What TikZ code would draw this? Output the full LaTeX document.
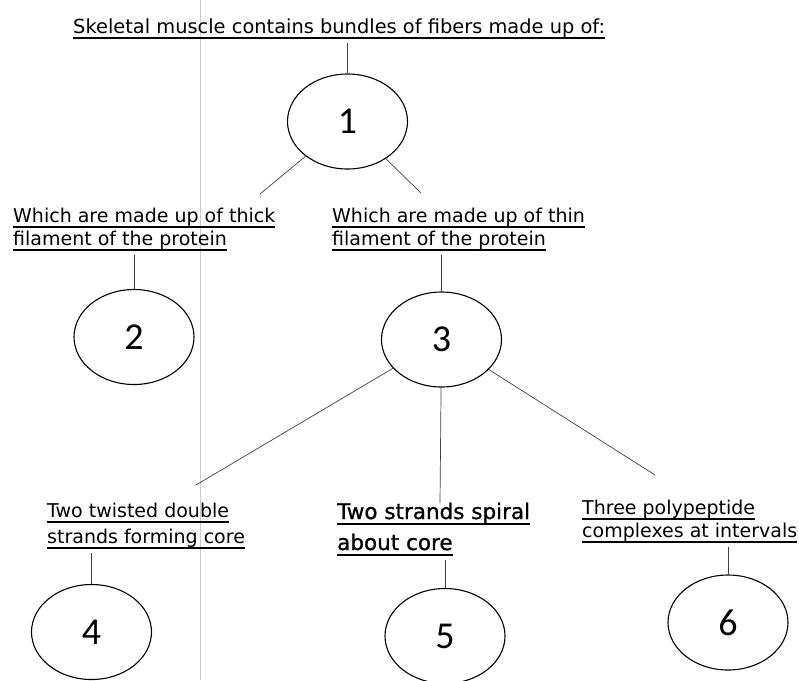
\documentclass[tikz,border=0pt]{standalone}
\usepackage{fontspec}
\setmainfont{DejaVu Sans}
\newfontfamily\numfont{Carlito}
\usetikzlibrary{shapes.geometric}
\newsavebox\ulbox
\newcommand\ulbl[1]{\sbox\ulbox{#1}\rlap{\rule[-5.6pt]{\wd\ulbox}{1.3pt}}\usebox\ulbox}

\begin{document}
\begin{tikzpicture}[x=1pt,y=-1pt,
    oval/.style={draw,line width=1.1pt,ellipse,minimum width=120pt,minimum height=95pt,
      inner sep=0pt,font=\numfont\fontsize{38}{38}\selectfont},
    lbl/.style={anchor=base west,align=left,inner xsep=0pt,inner ysep=4pt,
      font=\fontsize{19}{23}\selectfont},
    link/.style={draw=black!75,line width=0.7pt}]
  \useasboundingbox (0,0) rectangle (799,680);
  \draw[black!20,line width=0.6pt] (200,0) -- (200,680);
  \node[lbl,font=\fontsize{19.4}{23}\selectfont] (top) at (73,33) {\ulbl{Skeletal muscle contains bundles of fibers made up of:}};
  \node[oval] (e1) at (347.5,121.5) {1};
  % base anchor sits on the last line
  \node[lbl] (lab2) at (13,245) {\ulbl{Which are made up of thick}\\\ulbl{filament of the protein}};
  \node[lbl] (lab3) at (332,245) {\ulbl{Which are made up of thin}\\\ulbl{filament of the protein}};
  \node[oval] (e2) at (134,337) {2};
  \node[oval] (e3) at (441.5,339.5) {3};
  \node[lbl] (lab4) at (47,543) {\ulbl{Two twisted double}\\[3pt]\ulbl{strands forming core}};
  \node[lbl,font=\fontsize{21.5}{31}\selectfont\addfontfeature{FakeBold=1}] (lab5) at (337,550) {\ulbl{Two strands spiral}\\\ulbl{about core}};
  \node[lbl] (lab6) at (582,537) {\ulbl{Three polypeptide}\\\ulbl{complexes at intervals}};
  \node[oval] (e4) at (91.5,632) {4};
  \node[oval] (e5) at (445,636) {5};
  \node[oval] (e6) at (728,622.5) {6};
  \coordinate (k2) at (260,194);
  \coordinate (k3) at (421,193);
  \coordinate (k4) at (196,485);
  \coordinate (k5) at (440,503);
  \coordinate (k6) at (655,475);
  \draw[link] (top.south -| e1) -- (e1);
  \draw[link] (e1) -- (k2) (e1) -- (k3);
  \draw[link] (lab2.south -| e2) -- (e2);
  \draw[link] (lab3.south -| e3) -- (e3);
  \draw[link] (e3) -- (k4) (e3) -- (k5) (e3) -- (k6);
  \draw[link] (lab4.south -| e4) -- (e4);
  \draw[link] (lab5.south -| e5) -- (e5);
  \draw[link] (lab6.south -| e6) -- (e6);
\end{tikzpicture}
\end{document}
